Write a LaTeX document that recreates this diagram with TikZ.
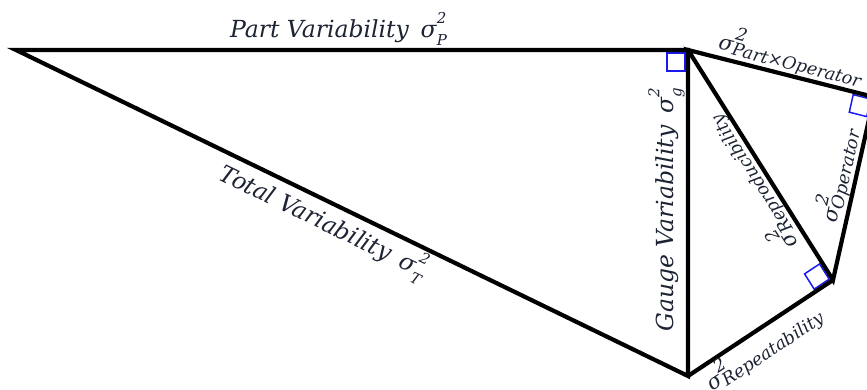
\documentclass[tikz,border=0pt]{standalone}
\usepackage{fontspec}
\setmainfont{DejaVu Serif}
\usetikzlibrary{calc}
\definecolor{ink}{HTML}{1C2333}
\definecolor{sqblue}{HTML}{1A1AF0}

% sigma with the 2 over its subscript
\newcommand{\subfont}{\fontsize{13}{15}\selectfont}
\newcommand{\subdrop}{0.34em}
\newcommand{\vsig}[1]{σ\kern0.3pt\rlap{\raisebox{0.6em}{\subfont 2}}\raisebox{-\subdrop}{\subfont #1}}

% right-angle marks (corner, one side, other side)
\newcommand{\rtmark}[3]{
  \draw[sqmark] ($(#1)!\ri!(#2)+(#1)!\ri!(#3)-(#1)$)
    -- ($(#1)!\ri+\rs!(#2)+(#1)!\ri!(#3)-(#1)$)
    -- ($(#1)!\ri+\rs!(#2)+(#1)!\ri+\rs!(#3)-(#1)$)
    -- ($(#1)!\ri!(#2)+(#1)!\ri+\rs!(#3)-(#1)$) -- cycle;
}

\begin{document}
\begin{tikzpicture}[
    x=1pt, y=-1pt,
    edge/.style={draw=black, line width=4.2pt, line join=miter},
    sqmark/.style={draw=sqblue, line width=1.5pt},
    biglab/.style={text=ink, inner sep=3pt,
        font=\fontsize{23.5}{27}\selectfont\itshape\def\subfont{\fontsize{15}{18}\selectfont}},
    smalllab/.style={text=ink, inner sep=2pt,
        font=\fontsize{21}{25}\selectfont\itshape\def\subfont{\fontsize{17.5}{20}\selectfont}\def\subdrop{0.16em}}
]
\useasboundingbox (0,0) rectangle (867,390);
\clip (0,0) rectangle (867,390);
\def\rs{18pt}
\def\ri{2.8pt}

% corners
\coordinate (L) at (16,50);
\coordinate (A) at (688,50);
\coordinate (B) at (688,376);
\coordinate (C) at (833,280);
\coordinate (D) at (874,97);

\rtmark{A}{L}{B}
\rtmark{D}{A}{C}
\rtmark{C}{A}{B}

% triangles
\draw[edge] (L) -- (A) -- (B) -- cycle;
\draw[edge] (A) -- (D) -- (C) -- cycle;
\draw[edge] (B) -- (C);

% labels along the sides
\path (L) -- node[biglab, above=1pt, pos=0.48] (partvar) {Part Variability\enspace\vsig{P}} (A);
\path (L) -- node[biglab, sloped, below, pos=0.47] (totalvar) {Total Variability\enspace\vsig{T}} (B);
\path (B) -- node[biglab, sloped, above, pos=0.51] (gaugevar) {Gauge Variability\enspace\vsig{g}} (A);
\path (C) -- node[smalllab, sloped, allow upside down, above, pos=0.46] (reprod) {\vsig{Reproducibility}} (A);
\path (C) -- node[smalllab, sloped, above, pos=0.55] (oper) {\vsig{Operator}} (D);
\path (A) -- node[smalllab, sloped, above, pos=0.53] (partop) {\vsig{Part×Operator}} (D);
\path (B) -- node[smalllab, sloped, below, inner sep=1pt, pos=0.45] (repeat) {\vsig{Repeatability}} (C);
\end{tikzpicture}
\end{document}
